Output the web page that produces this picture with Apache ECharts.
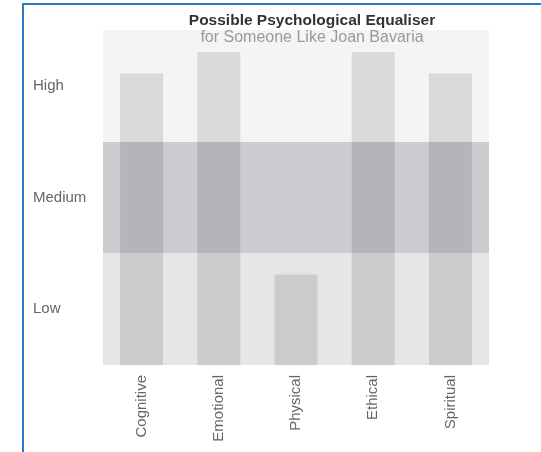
<!DOCTYPE html>
<html>
<head>
<meta charset="utf-8">
<script src="https://cdn.jsdelivr.net/npm/echarts@6/dist/echarts.min.js"></script>
<style>
html,body{margin:0;padding:0;background:#fff;}
#c{width:541px;height:452px;position:absolute;left:0;top:0;}
#frame{position:absolute;left:22px;top:3px;width:530px;height:460px;border-left:2px solid #2a7bc4;border-top:2px solid #2a7bc4;pointer-events:none;}
</style>
</head>
<body>
<div id="c"></div>
<div id="frame"></div>
<script>
const titleText = 'Possible Psychological Equaliser';
const subtitleText = 'for Someone Like Joan Bavaria';
const categories = ['Cognitive', 'Emotional', 'Physical', 'Ethical', 'Spiritual'];
const levelLabels = ['Low', 'Medium', 'High'];
const values = [2.61, 2.8, 0.81, 2.8, 2.61];

const chart = echarts.init(document.getElementById('c'));
chart.setOption({
  animation: false,
  title: {
    text: titleText,
    subtext: subtitleText,
    left: 307,
    textAlign: 'center',
    top: 8,
    itemGap: 1,
    textStyle: {fontFamily: 'Liberation Sans', fontSize: 15.5, fontWeight: 'bold', color: '#333'},
    subtextStyle: {fontFamily: 'Liberation Sans', fontSize: 16, color: '#999'}
  },
  grid: {left: 103, right: 52, top: 30, bottom: 87},
  xAxis: {
    type: 'category',
    data: categories,
    axisLine: {show: false},
    axisTick: {show: false},
    axisLabel: {rotate: 90, margin: 10, fontFamily: 'Liberation Sans', fontSize: 15, color: '#666'}
  },
  yAxis: [{
    type: 'value',
    min: 0, max: 3, interval: 1,
    axisLabel: {show: false},
    axisLine: {show: false},
    axisTick: {show: false},
    splitLine: {show: false},
    splitArea: {show: true, areaStyle: {color: ['#e5e6e8', '#cbcccf', '#f4f4f4']}}
  }, {
    type: 'category',
    position: 'left',
    data: levelLabels,
    axisLine: {show: false},
    axisTick: {show: false},
    splitLine: {show: false},
    axisLabel: {align: 'left', margin: 70, padding: [0, 0, 8, 0], fontFamily: 'Liberation Sans', fontSize: 15, color: '#666'}
  }],
  series: [{
    type: 'bar',
    yAxisIndex: 0,
    data: values,
    barWidth: 43,
    itemStyle: {color: 'rgba(0,0,0,0.11)'}
  }]
});
</script>
</body>
</html>
